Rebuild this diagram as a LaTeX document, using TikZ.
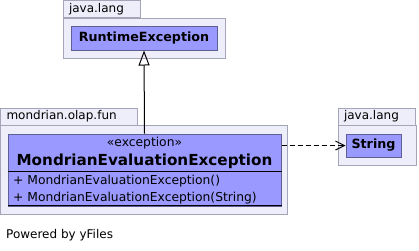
\documentclass[tikz,border=0pt]{standalone}
\usepackage{fontspec}
\setmainfont{DejaVu Sans}
\usepackage{xcolor}
\definecolor{pkg-fill}{RGB}{238,238,250}
\definecolor{pkg-line}{RGB}{165,165,185}
\definecolor{cls-fill}{RGB}{153,153,255}
\definecolor{cls-line}{RGB}{95,95,150}
\usepackage{tikz}
\usetikzlibrary{arrows.meta}

\begin{document}
\begin{tikzpicture}[
    x=1pt, y=-1pt,
    pkg tab/.style={
        draw=pkg-line,
        fill=pkg-fill,
        line width=1pt,
        inner xsep=6pt,
        inner ysep=0pt,
        minimum height=17pt,
        align=left,
        font=\fontsize{12}{14}\selectfont
    },
    pkg body/.style={
        draw=pkg-line,
        fill=pkg-fill,
        line width=1pt,
        inner sep=0pt
    },
    class box/.style={
        draw=cls-line,
        fill=cls-fill,
        line width=1pt,
        inner sep=0pt,
        font=\bfseries\fontsize{12.7}{14}\selectfont
    },
    stereo/.style={font=\fontsize{12.3}{14}\selectfont, inner sep=0pt},
    op/.style={font=\fontsize{12.3}{14}\selectfont, inner sep=0pt, anchor=west},
    inherits/.style={-{Triangle[open,length=15pt,width=11pt]}, line width=1pt},
    uses/.style={-{Straight Barb[length=9pt,width=9pt]}, line width=1pt,
        dash pattern=on 5pt off 3pt}
]
\useasboundingbox (0,0) rectangle (419,250);

% package java.lang (top)
\node[pkg tab, text width=65pt] (langtab) at (101.5,9) {java.lang};
\node[pkg body, minimum width=162pt, minimum height=40pt] (langpkg) at (144,38) {};
\node[class box, minimum width=146pt, minimum height=24pt] (runtime) at (144,38) {RuntimeException};

% package mondrian.olap.fun
\node[pkg tab, text width=125pt] (funtab) at (69,116.5) {mondrian.olap.fun};
\node[pkg body, minimum width=287pt, minimum height=89pt] (funpkg) at (144,169.5) {};
\node[class box, minimum width=273pt, minimum height=72pt] (mondrian) at (144.5,170) {};
\node[stereo] (stereo) at (144.5,143.5) {«exception»};
\node[stereo, font=\bfseries\fontsize{15.2}{18}\selectfont] (mname) at (144.5,161) {MondrianEvaluationException};
\draw[line width=1pt] ([yshift=-38pt]mondrian.north west) -- ([yshift=-38pt]mondrian.north east);
\node[op] (op1) at (13,181.5) {+\ MondrianEvaluationException()};
\node[op] (op2) at (13,198) {+\ MondrianEvaluationException(String)};
\draw[line width=1.3pt] ([yshift=1pt]mondrian.south west) -- ([yshift=1pt]mondrian.south east);

% package java.lang (right)
\node[pkg tab, text width=65pt] (strtab) at (376.5,116.5) {java.lang};
\node[pkg body, minimum width=78pt, minimum height=40pt] (strpkg) at (377,145) {};
\node[class box, minimum width=55pt, minimum height=23pt] (string) at (373.5,145.5) {String};

% relations
\draw[inherits] (mondrian.north) -- (runtime.south);
\draw[uses] (string.west -| mondrian.east) -- (string.west);

% footer
\node[op, font=\fontsize{12}{14}\selectfont] (yfiles) at (6,235) {Powered by yFiles};

\end{tikzpicture}
\end{document}
